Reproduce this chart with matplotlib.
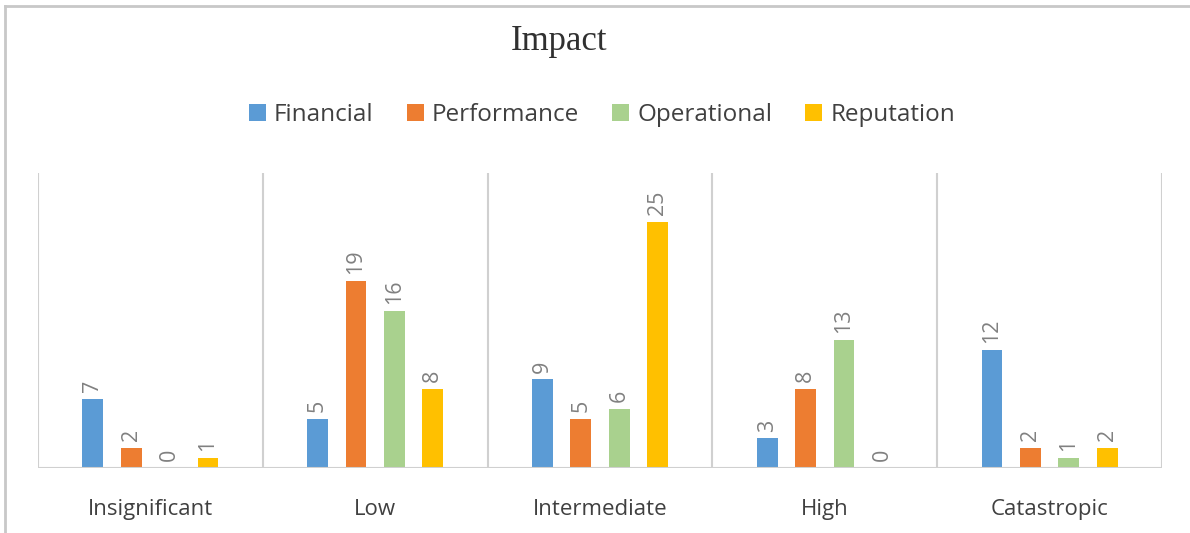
import matplotlib
matplotlib.use("Agg")
import matplotlib.pyplot as plt
from matplotlib.lines import Line2D
from matplotlib.patches import Patch
import numpy as np

categories = ["Insignificant", "Low", "Intermediate", "High", "Catastropic"]
series_names = ["Financial", "Performance", "Operational", "Reputation"]
financial = [7, 5, 9, 3, 12]
performance = [2, 19, 5, 8, 2]
operational = [0, 16, 6, 13, 1]
reputation = [1, 8, 25, 0, 2]

colors = ["#5B9BD5", "#ED7D31", "#A9D18E", "#FFC000"]
grid_color = "#D0D0D0"
text_color = "#404040"
label_color = "#808080"
sans = ["Open Sans", "DejaVu Sans"]

fig = plt.figure(figsize=(11.9, 5.33), dpi=100)
ax = fig.add_axes([0.0319, 0.122, 0.9446, 0.5534])

x = np.arange(len(categories))
bar_w = 0.093
step = 0.171
data = [financial, performance, operational, reputation]
for i, (vals, col) in enumerate(zip(data, colors)):
    pos = x + (i - 1.5) * step
    ax.bar(pos, vals, width=bar_w, color=col, zorder=3)
    for px, v in zip(pos, vals):
        ax.annotate(str(v), (px, v), xytext=(0, 5), textcoords="offset points",
                    rotation=90, ha="center", va="bottom", fontsize=15.5,
                    color=label_color, family=sans)

ax.set_xlim(-0.5, len(categories) - 0.5)
ax.set_ylim(0, 30)
for b in np.arange(-0.5, len(categories), 1.0):
    ax.axvline(b, color=grid_color, lw=1.5, zorder=1)
ax.axhline(0, color=grid_color, lw=1.5, zorder=4)
for s in ax.spines.values():
    s.set_visible(False)
ax.set_yticks([])
ax.set_xticks(x)
ax.set_xticklabels(categories, fontsize=16, color=text_color, family=sans)
ax.tick_params(axis="x", length=0, pad=22)

fig.text(0.470, 0.906, "Impact", ha="center", va="baseline", fontsize=25,
         family=["Liberation Serif", "DejaVu Serif"], color="#303030")

handles = [Patch(facecolor=c, edgecolor="none") for c in colors]
fig.legend(handles, series_names, loc="center", bbox_to_anchor=(0.506, 0.785),
           ncol=4, frameon=False, handlelength=0.7, handleheight=0.7,
           handletextpad=0.35, columnspacing=1.35,
           prop={"family": sans, "size": 17.5}, labelcolor=text_color)

# outer frame (top and left edges)
fig.add_artist(Line2D([0.0042, 0.0042], [0, 0.989], transform=fig.transFigure,
                      color="#C8C8C8", lw=2))
fig.add_artist(Line2D([0.0042, 1.0], [0.989, 0.989], transform=fig.transFigure,
                      color="#C8C8C8", lw=2))

fig.savefig("out.png", dpi=100)
